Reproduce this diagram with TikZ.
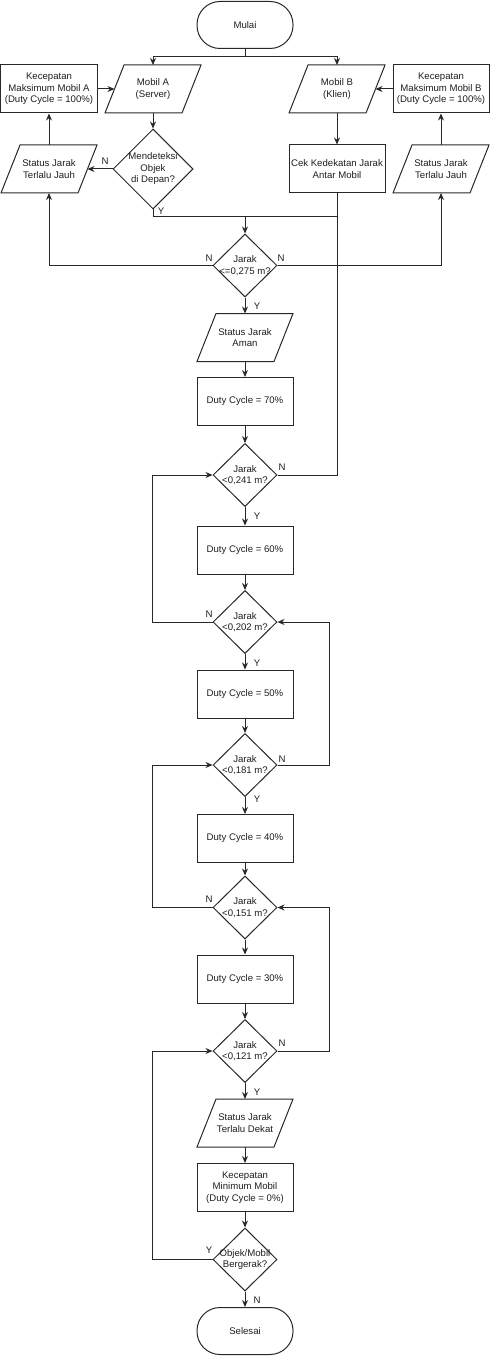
\documentclass[tikz,border=0pt]{standalone}
\usepackage{fontspec}
\setmainfont{Liberation Sans}
\usetikzlibrary{shapes.geometric,arrows.meta,calc}
\definecolor{ln}{RGB}{40,40,40}
\definecolor{tx}{RGB}{30,30,30}
\newcommand\ioshape[1]{\draw ($(#1.north west)+(19,0)$) -- (#1.north east) -- ($(#1.south east)+(-19,0)$) -- (#1.south west) -- cycle;}
\begin{document}
\begin{tikzpicture}[x=1bp,y=-1bp,
  font=\fontsize{9.6bp}{11.5bp}\selectfont,
  line width=1bp, draw=ln, text=tx,
  box/.style={draw, rectangle, minimum width=96bp, minimum height=48bp, align=center, inner sep=1bp},
  io/.style={rectangle, minimum width=96bp, minimum height=48bp, align=center, inner sep=1bp, outer sep=0pt},
  term/.style={draw, rectangle, rounded corners=23bp, minimum width=96bp, minimum height=47bp, align=center},
  dec/.style={draw, diamond, minimum width=64bp, minimum height=63bp, inner sep=0pt},
  dectext/.style={align=center, inner sep=0pt},
  lbl/.style={inner sep=0pt},
  arr/.style={-{Stealth[length=7bp,width=6bp]}}]
\useasboundingbox (0,0) rectangle (490,1357);

% nodes
\node[term] (mulai) at (245,25) {Mulai};
\node[box] (kecA) at (49,89) {Kecepatan\\Maksimum Mobil A\\(Duty Cycle = 100\%)};
\node[io] (mobA) at (153,89) {Mobil A\\(Server)}; \ioshape{mobA}
\node[io] (mobB) at (337,89) {Mobil B\\(Klien)}; \ioshape{mobB}
\node[box] (kecB) at (441,89) {Kecepatan\\Maksimum Mobil B\\(Duty Cycle = 100\%)};
\node[dec, minimum width=80bp, minimum height=80bp, label={[dectext]center:Mendeteksi\\Objek\\di Depan?}] (dmA) at (153,169) {};
\node[io] (stL) at (49,169) {Status Jarak\\Terlalu Jauh}; \ioshape{stL}
\node[box] (cek) at (337,169) {Cek Kedekatan Jarak\\Antar Mobil};
\node[io] (stR) at (441,169) {Status Jarak\\Terlalu Jauh}; \ioshape{stR}
\node[dec, label={[dectext]center:Jarak\\<=0,275 m?}] (d275) at (245,265.5) {};
\node[io] (aman) at (245,337.5) {Status Jarak\\Aman}; \ioshape{aman}
\node[box] (dc70) at (245,401.5) {Duty Cycle = 70\%};
\node[dec, label={[dectext]center:Jarak\\<0,241 m?}] (d241) at (245,475) {};
\node[box] (dc60) at (245,550) {Duty Cycle = 60\%};
\node[dec, label={[dectext]center:Jarak\\<0,202 m?}] (d202) at (245,622) {};
\node[box] (dc50) at (245,694) {Duty Cycle = 50\%};
\node[dec, label={[dectext]center:Jarak\\<0,181 m?}] (d181) at (245,765) {};
\node[box] (dc40) at (245,838.5) {Duty Cycle = 40\%};
\node[dec, label={[dectext]center:Jarak\\<0,151 m?}] (d151) at (245,907.5) {};
\node[box] (dc30) at (245,979) {Duty Cycle = 30\%};
\node[dec, label={[dectext]center:Jarak\\<0,121 m?}] (d121) at (245,1051) {};
\node[io] (dekat) at (245,1123) {Status Jarak\\Terlalu Dekat}; \ioshape{dekat}
\node[box] (kmin) at (245,1187.5) {Kecepatan\\Minimum Mobil\\(Duty Cycle = 0\%)};
\node[dec, label={[dectext]center:Objek/Mobil\\Bergerak?}] (dobj) at (245,1259.5) {};
\node[term] (selesai) at (245,1331) {Selesai};

% connectors
\draw[arr] (mulai.south) -- ++(0,8) -| (mobA.north);
\draw[arr] (mulai.south) -- ++(0,8) -| (mobB.north);
\draw[arr] (kecA.east) -- ($(mobA.west)+(9.5,0)$);
\draw[arr] (kecB.west) -- ($(mobB.east)+(-9.5,0)$);
\draw[arr] (mobA.south) -- (dmA.north);
\draw[arr] (dmA.west) -- ($(stL.east)+(-9.5,0)$);
\draw[arr] (stL.north) -- (kecA.south);
\draw[arr] (mobB.south) -- (cek.north);
\draw[arr] (stR.north) -- (kecB.south);
\coordinate (m1) at (245,217);
\draw (dmA.south) |- (m1);
\draw (cek.south) |- (m1);
\draw[arr] (m1) -- (d275.north);
\draw[arr] (d275.west) -| (stL.south);
\draw[arr] (d275.east) -| (stR.south);
\draw[arr] (d275.south) -- (aman.north);
\draw[arr] (aman.south) -- (dc70.north);
\draw[arr] (dc70.south) -- (d241.north);
\draw (d241.east) -| (cek.south);
\draw[arr] (d241.south) -- (dc60.north);
\draw[arr] (dc60.south) -- (d202.north);
\draw[arr] (d202.west) -- ++(-60,0) |- (d241.west);
\draw[arr] (d202.south) -- (dc50.north);
\draw[arr] (dc50.south) -- (d181.north);
\draw[arr] (d181.east) -- ++(52,0) |- (d202.east);
\draw[arr] (d181.south) -- (dc40.north);
\draw[arr] (dc40.south) -- (d151.north);
\draw[arr] (d151.west) -- ++(-60,0) |- (d181.west);
\draw[arr] (d151.south) -- (dc30.north);
\draw[arr] (dc30.south) -- (d121.north);
\draw[arr] (d121.east) -- ++(52,0) |- (d151.east);
\draw[arr] (d121.south) -- (dekat.north);
\draw[arr] (dekat.south) -- (kmin.north);
\draw[arr] (kmin.south) -- (dobj.north);
\draw[arr] (dobj.west) -- ++(-60,0) |- (d121.west);
\draw[arr] (dobj.south) -- (selesai.north);

% branch labels
\node[lbl] (lA) at (105,161) {N};
\node[lbl] (lB) at (161,211) {Y};
\node[lbl] (l1) at (209,258) {N};
\node[lbl] (l2) at (281,258) {N};
\node[lbl] (l3) at (257,306) {Y};
\node[lbl] (l4) at (282,467) {N};
\node[lbl] (l5) at (257,516) {Y};
\node[lbl] (l6) at (209,614) {N};
\node[lbl] (l7) at (257,663) {Y};
\node[lbl] (l8) at (282,759) {N};
\node[lbl] (l9) at (257,799) {Y};
\node[lbl] (l10) at (209,899) {N};
\node[lbl] (l11) at (282,1043) {N};
\node[lbl] (l12) at (257,1092) {Y};
\node[lbl] (l13) at (209,1250) {Y};
\node[lbl] (l14) at (257,1300) {N};
\end{tikzpicture}
\end{document}
